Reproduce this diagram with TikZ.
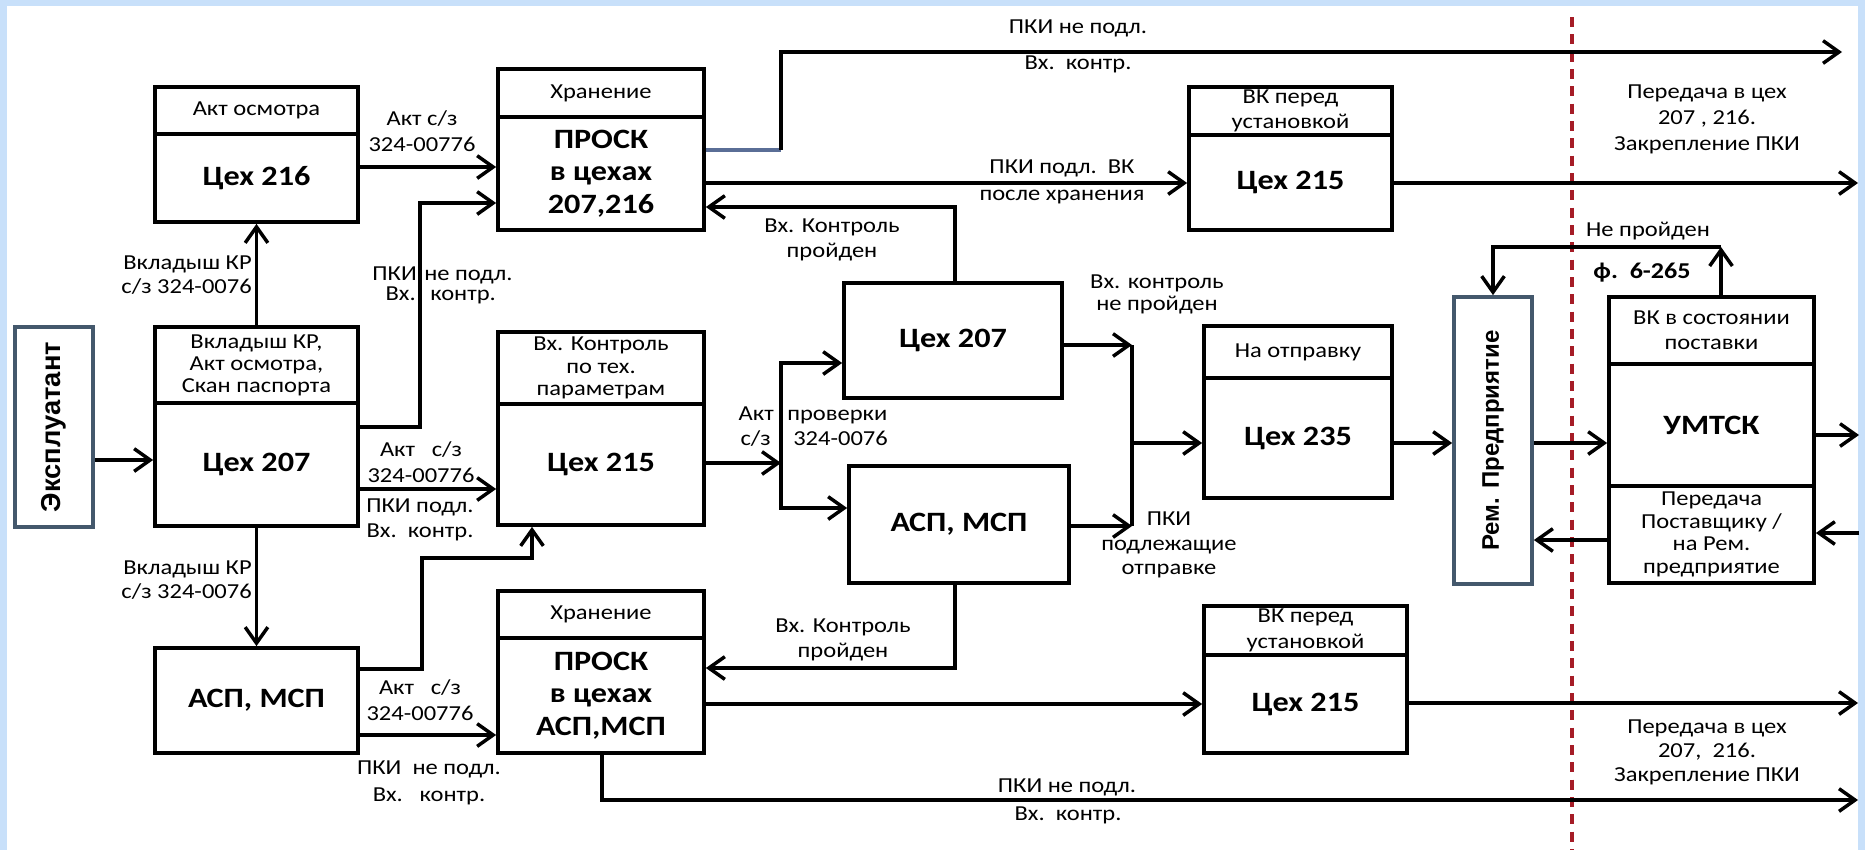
\documentclass[tikz,border=0pt]{standalone}
\usepackage{fontspec}
\setmainfont{Carlito}[FakeStretch=1.15]
\newfontfamily\arialfont{Liberation Sans}
\usetikzlibrary{arrows.meta,fit}
\definecolor{bgblue}{RGB}{200,224,250}
\definecolor{slate}{RGB}{68,88,108}
\definecolor{dred}{RGB}{165,28,38}
\definecolor{segblue}{RGB}{90,110,150}
\begin{document}
\begin{tikzpicture}[x=0.75pt,y=-0.75pt,
  box/.style={draw=black, line width=2.8pt, fill=white, inner sep=0pt},
  sbox/.style={draw=slate, line width=2.8pt, fill=white, inner sep=0pt},
  ln/.style={line width=2.6pt},
  arr/.style={line width=2.6pt, -{Straight Barb[length=12pt,width=17pt]}},
  lbl/.style={font=\fontsize{16}{#1}\selectfont, align=center, inner sep=0pt},
  lbl/.default=18,
  ttl/.style={font=\fontsize{21}{24.5}\selectfont\bfseries, align=center, inner sep=0pt},
  vtxt/.style={rotate=90, font=\fontsize{#1}{20}\selectfont\arialfont\bfseries, inner sep=0pt},
  vtxt/.default=18
  ]
\useasboundingbox (0,0) rectangle (1865,850);
\fill[bgblue] (0,0) rectangle (1865,850);
\fill[white] (7,6) rectangle (1858,850);

% dashed border line
\draw[dred, line width=3pt, dash pattern=on 7.5pt off 5.5pt] (1572,17) -- (1572,850);

% boxes
\node[sbox, fit={(15,327) (93,527)}] (ex) {};
\node[box, fit={(155,87) (358,134)}] (h216) {};
\node[box, fit={(155,134) (358,222)}] (c216) {};
\node[box, fit={(498,69) (704,117)}] (hpr1) {};
\node[box, fit={(498,117) (704,230)}] (pr1) {};
\node[box, fit={(155,327) (358,403)}] (h207) {};
\node[box, fit={(155,403) (358,526)}] (c207a) {};
\node[box, fit={(498,332) (704,404)}] (h215) {};
\node[box, fit={(498,404) (704,525)}] (c215) {};
\node[box, fit={(155,648) (358,753)}] (asp1) {};
\node[box, fit={(498,591) (704,638)}] (hpr2) {};
\node[box, fit={(498,638) (704,753)}] (pr2) {};
\node[box, fit={(844,283) (1062,398)}] (c207b) {};
\node[box, fit={(849,466) (1069,583)}] (asp2) {};
\node[box, fit={(1189,87) (1392,135)}] (hvk1) {};
\node[box, fit={(1189,135) (1392,230)}] (vk1) {};
\node[box, fit={(1204,326) (1392,378)}] (hot) {};
\node[box, fit={(1204,378) (1392,498)}] (c235) {};
\node[box, fit={(1204,606) (1407,655)}] (hvk2) {};
\node[box, fit={(1204,655) (1407,753)}] (vk2) {};
\node[sbox, fit={(1454,297) (1532,584)}] (rem) {};
\node[box, fit={(1609,297) (1814,364)}] (humt) {};
\node[box, fit={(1609,364) (1814,486)}] (umt) {};
\node[box, fit={(1609,486) (1814,583)}] (fumt) {};

% box texts
\node[vtxt=20.5] (ext) at (ex.center) {Эксплуатант};
\node[lbl] (t216h) at (h216.center) {Акт осмотра};
\node[ttl] (t216) at (c216.center) {Цех 216};
\node[lbl] (tpr1h) at (hpr1.center) {Хранение};
\node[ttl] (tpr1) at (pr1.center) {ПРОСК\\в цехах\\207,216};
\node[lbl=16.5] (t207h) at (h207.center) {Вкладыш КР,\\Акт осмотра,\\Скан паспорта};
\node[ttl] (t207a) at (c207a.center) {Цех 207};
\node[lbl=17] (t215h) at (h215.center) {Вх. Контроль\\по тех.\\параметрам};
\node[ttl] (t215) at (c215.center) {Цех 215};
\node[ttl] (tasp1) at (asp1.center) {АСП, МСП};
\node[lbl] (tpr2h) at (hpr2.center) {Хранение};
\node[ttl] (tpr2) at (pr2.center) {ПРОСК\\в цехах\\АСП,МСП};
\node[ttl] (t207b) at (c207b.center) {Цех 207};
\node[ttl] (tasp2) at (asp2.center) {АСП, МСП};
\node[lbl=19] (tvk1h) at (hvk1.center) {ВК перед\\установкой};
\node[ttl] (tvk1) at (vk1.center) {Цех 215};
\node[lbl] (toth) at (hot.center) {На отправку};
\node[ttl] (t235) at (c235.center) {Цех 235};
\node[lbl=19] (tvk2h) at (hvk2.center) {ВК перед\\установкой};
\node[ttl] (tvk2) at (vk2.center) {Цех 215};
\node[vtxt=18] (trem) at (rem.center) {Рем. Предприятие};
\node[lbl=19] (tumth) at (humt.center) {ВК в состоянии\\поставки};
\node[ttl] (tumt) at (umt.center) {УМТСК};
\node[lbl=17] (tfumt) at (fumt.center) {Передача\\Поставщику /\\на Рем.\\предприятие};

% connectors
\draw[arr] (ex.east |- 0,460) -- (c207a.west |- 0,460);
\draw[arr] (h207.north) -- (c216.south);
\draw[arr] (c207a.south) -- (asp1.north);
\draw[arr] (c216.east |- 0,167) -- (pr1.west |- 0,167);
\draw[arr] (c207a.east |- 0,427) -| (420,203) -- (pr1.west |- 0,203);
\draw[arr] (c207a.east |- 0,489) -- (c215.west |- 0,489);
\draw[arr] (asp1.east |- 0,669) -| (422,558) -| (c215.south -| 532,0);
\draw[arr] (asp1.east |- 0,735) -- (pr2.west |- 0,735);

\coordinate (o1) at (1842,52);
\draw[ln, segblue] (pr1.east |- 0,150) -- (781,150);
\draw[arr] (781,150) |- (o1);
\draw[arr] (pr1.east |- 0,183) -- (vk1.west |- 0,183);
\draw[arr] (c207b.north -| 955,0) |- (pr1.east |- 0,207);

\coordinate (j1) at (781,463);
\draw[arr] (c215.east |- j1) -- (j1);
\draw[arr] (j1) |- (c207b.west |- 0,363);
\draw[arr] (j1) |- (asp2.west |- 0,508);

\coordinate (j2) at (1132,443);
\draw[arr] (c207b.east |- 0,345) -- (1132,345);
\draw[arr] (asp2.east |- 0,526) -- (1132,526);
\draw[ln] (1132,345) -- (1132,526);
\draw[arr] (j2) -- (c235.west |- j2);

\draw[arr] (c235.east |- 0,443) -- (rem.west |- 0,443);
\draw[arr] (rem.east |- 0,443) -- (umt.west |- 0,443);
\coordinate (o2) at (1859,435);
\draw[arr] (umt.east |- o2) -- (o2);
\coordinate (i1) at (1859,533);
\draw[arr] (i1) -- (fumt.east |- i1);
\draw[arr] (fumt.west |- 0,540) -- (rem.east |- 0,540);
\coordinate (k1) at (1721,247);
\draw[arr] (humt.north -| k1) -- (k1);
\draw[arr] (k1) -| (rem.north);

\coordinate (o3) at (1858,183);
\draw[arr] (vk1.east |- o3) -- (o3);
\draw[arr] (pr2.east |- 0,704) -- (vk2.west |- 0,704);
\draw[arr] (asp2.south -| 955,0) |- (pr2.east |- 0,668);
\coordinate (o4) at (1858,800);
\draw[arr] (pr2.south -| 602,0) |- (o4);
\coordinate (o5) at (1858,703);
\draw[arr] (vk2.east |- o5) -- (o5);

% labels
\node[lbl, anchor=east, align=right] (l1) at (252,275) {Вкладыш КР\\с/з 324-0076};
\node[lbl, anchor=east, align=right] (l2) at (252,580) {Вкладыш КР\\с/з 324-0076};
\node[lbl=20] (l3) at (422,131) {Акт с/з\\324-00776};
\node[lbl, anchor=base east] (l4a) at (417,280) {ПКИ};
\node[lbl, anchor=base west] (l4b) at (424,280) {не подл.};
\node[lbl, anchor=base east] (l4c) at (416,300) {Вх.};
\node[lbl, anchor=base west] (l4d) at (430,300) {контр.};
\node[lbl=19.5] (l5) at (421,462) {Акт\ \ \ с/з\\324-00776};
\node[lbl=19] (l6) at (420,520) {ПКИ подл.\\Вх.\ \ контр.};
\node[lbl=19.5] (l7) at (420,700) {Акт\ \ \ с/з\\324-00776};
\node[lbl=20] (l8) at (429,783) {ПКИ\ \ не подл.\\Вх.\ \ \ контр.};
\node[lbl] (l9a) at (1078,28) {ПКИ не подл.};
\node[lbl] (l9b) at (1078,64) {Вх.\ \ контр.};
\node[lbl] (l10a) at (1062,168) {ПКИ подл.\ \ ВК};
\node[lbl] (l10b) at (1062,197) {после хранения};
\node[lbl=19] (l11) at (832,240) {Вх. Контроль\\пройден};
\node[lbl, anchor=base east] (l12a) at (774,420) {Акт};
\node[lbl, anchor=base west] (l12b) at (787,420) {проверки};
\node[lbl, anchor=base east] (l12c) at (771,445) {с/з};
\node[lbl, anchor=base west] (l12d) at (793,445) {324-0076};
\node[lbl=16.5] (l13) at (1157,294) {Вх. контроль\\не пройден};
\node[lbl=18.5] (l14) at (1169,545) {ПКИ\\подлежащие\\отправке};
\node[lbl=19.5] (l15) at (1707,119) {Передача в цех\\207 , 216.\\Закрепление ПКИ};
\node[lbl=18] (l16) at (1707,752) {Передача в цех\\207,\ \ 216.\\Закрепление ПКИ};
\node[lbl] (l17) at (1648,231) {Не пройден};
\node[lbl, font=\fontsize{17}{19}\selectfont\bfseries] (l18) at (1642,273) {ф.\ \ 6-265};
\node[lbl=19] (l19) at (843,640) {Вх. Контроль\\пройден};
\node[lbl] (l20a) at (1067,787) {ПКИ не подл.};
\node[lbl] (l20b) at (1068,815) {Вх.\ \ контр.};
\end{tikzpicture}
\end{document}
